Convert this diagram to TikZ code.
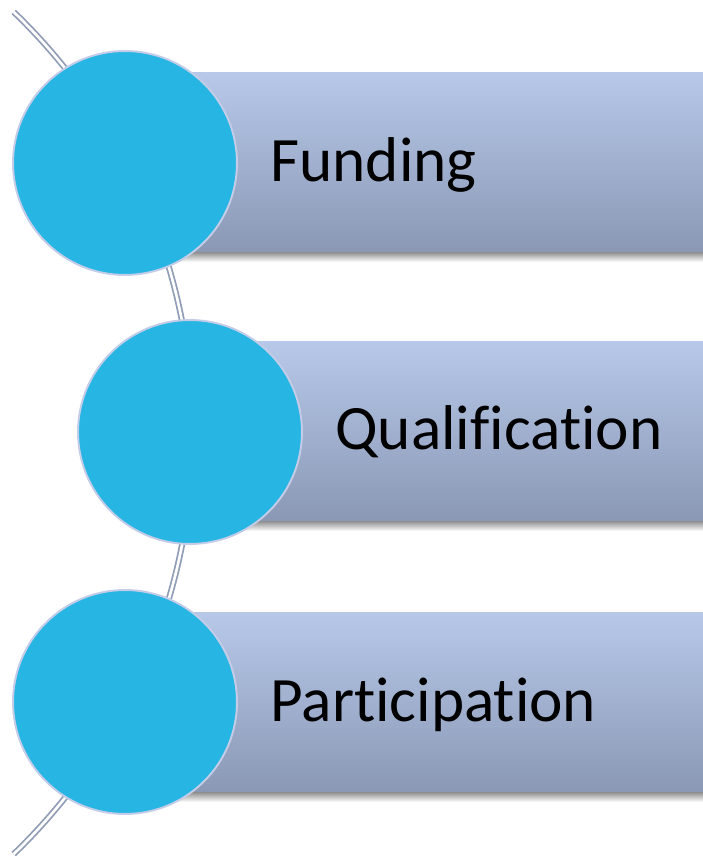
\documentclass[tikz,border=0pt]{standalone}
\usepackage{fontspec}
\setmainfont[Ligatures=NoCommon]{Carlito}
\usetikzlibrary{calc}
\definecolor{cb}{RGB}{39,182,228}
\definecolor{cbr}{RGB}{196,204,232}
\definecolor{bt}{RGB}{183,200,233}
\definecolor{bb}{RGB}{138,152,180}
\definecolor{railc}{RGB}{145,157,182}
\tikzset{
  rail/.style={draw=railc,line width=1pt,double=white,double distance=1.5pt},
  bar/.style={rectangle,draw=none,top color=bt,bottom color=bb,
    minimum height=3.6cm,inner sep=0pt,anchor=south west},
  shd/.style={top color=black!40,bottom color=white,draw=none},
  disc/.style={circle,fill=cb,draw=cbr,line width=1.1pt,
    minimum size=4.48cm,inner sep=0pt},
  lbl/.style={font=\fontsize{36}{40}\selectfont,text=black,
    inner sep=0pt,anchor=base west},
}
\begin{document}
\begin{tikzpicture}[x=0.02cm,y=0.02cm]
    \useasboundingbox (0,0) rectangle (703,860);

    % ── rail behind the discs ────────────────────────────────────────────
    \draw[rail] (-391.5,427) ++(46.1:11.69cm)
      arc[start angle=46.1,end angle=-46.1,radius=11.69cm];

    % ── bars with soft shadow ────────────────────────────────────────────
    \node[bar,minimum width=11.56cm] (b1) at (125,607) {};
    \node[bar,minimum width=10.26cm] (b2) at (190,338) {};
    \node[bar,minimum width=11.56cm] (b3) at (125,67)  {};

    \shade[shd] (b1.south west) rectangle ($(b1.south east)+(0,-9)$);
    \shade[shd] (b2.south west) rectangle ($(b2.south east)+(0,-9)$);
    \shade[shd] (b3.south west) rectangle ($(b3.south east)+(0,-9)$);

    % ── discs ────────────────────────────────────────────────────────────
    \node[disc] (c1) at (125,697) {};
    \node[disc] (c2) at (190,428) {};
    \node[disc] (c3) at (125,158) {};

    % ── labels ───────────────────────────────────────────────────────────
    \node[lbl] (t1) at (270,678) {Funding};
    \node[lbl] (t2) at (335,410) {Qualification};
    \node[lbl] (t3) at (270,138) {Participation};

\end{tikzpicture}
\end{document}
